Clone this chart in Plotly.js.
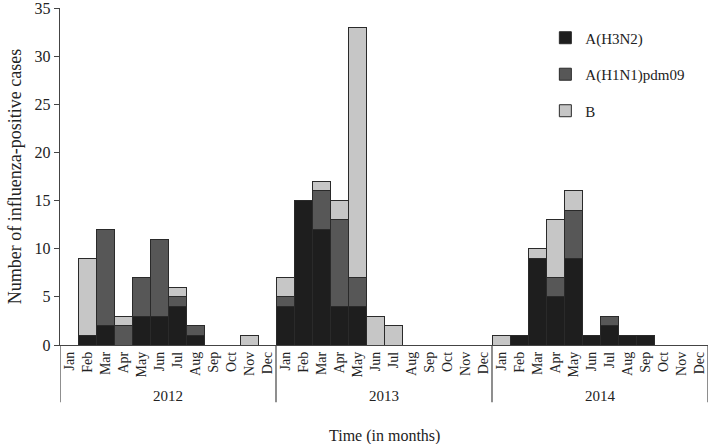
<!DOCTYPE html>
<html>
<head>
<meta charset="utf-8">
<script src="https://cdn.plot.ly/plotly-3.0.1.min.js"></script>
<style>
  html, body { margin: 0; padding: 0; background: #fff; }
  #chart { width: 709px; height: 444px; }
</style>
</head>
<body>
<div id="chart"></div>
<script>
// Data, Jan 2012 .. Dec 2014
const years = ['2012', '2013', '2014'];
const months = ['Jan', 'Feb', 'Mar', 'Apr', 'May', 'Jun', 'Jul', 'Aug', 'Sep', 'Oct', 'Nov', 'Dec'];
const yTicks = [0, 5, 10, 15, 20, 25, 30, 35];

const h3n2 = [
    0, 1, 2, 0, 3, 3, 4, 1, 0, 0, 0, 0,
    4, 15, 12, 4, 4, 0, 0, 0, 0, 0, 0, 0,
    0, 1, 9, 5, 9, 1, 2, 1, 1, 0, 0, 0
];
const h1n1 = [
    0, 0, 10, 2, 4, 8, 1, 1, 0, 0, 0, 0,
    1, 0, 4, 9, 3, 0, 0, 0, 0, 0, 0, 0,
    0, 0, 0, 2, 5, 0, 1, 0, 0, 0, 0, 0
];
const fluB = [
    0, 8, 0, 1, 0, 0, 1, 0, 0, 0, 1, 0,
    2, 0, 1, 2, 26, 3, 2, 0, 0, 0, 0, 0,
    1, 0, 1, 6, 2, 0, 0, 0, 0, 0, 0, 0
];

const serif = '"Liberation Serif", "DejaVu Serif", serif';
const textColor = '#222';

// x positions are just month indices 0..35
const xIdx = h3n2.map((v, i) => i);
const tickText = xIdx.map(i => months[i % 12]);

function makeBar(name, values, color) {
    return {
        x: xIdx,
        y: values,
        type: 'bar',
        name: name,
        legendgroup: name,
        marker: {
            color: color,
            line: { color: '#2a2a2a', width: 1 }
        },
        hoverinfo: 'name+y'
    };
}

const traces = [
    makeBar('A(H3N2)', h3n2, '#1e1e1e'),
    makeBar('A(H1N1)pdm09', h1n1, '#575757'),
    makeBar('B', fluB, '#c6c6c6')
];

// Year separators and labels under the month ticks
const shapes = [];
const annotations = [];
for (let k = 0; k <= years.length; k++) {
    shapes.push({
        type: 'line', xref: 'x', yref: 'paper',
        x0: k * 12 - 0.5, x1: k * 12 - 0.5,
        y0: 0, y1: -0.17,
        line: { color: '#444', width: 1.2 }
    });
}
years.forEach((yr, k) => {
    annotations.push({
        text: yr, xref: 'x', yref: 'paper',
        x: k * 12 + 5.5, y: -0.152,
        showarrow: false, xanchor: 'center', yanchor: 'middle',
        font: { family: serif, size: 15, color: textColor }
    });
});
annotations.push({
    text: 'Time (in months)', xref: 'paper', yref: 'paper',
    x: 0.5, y: -0.27,
    showarrow: false, xanchor: 'center', yanchor: 'middle',
    font: { family: serif, size: 16, color: textColor }
});

const layout = {
    width: 709,
    height: 444,
    margin: { t: 8, r: 1, b: 99, l: 60 },
    paper_bgcolor: '#fff',
    plot_bgcolor: '#fff',
    barmode: 'stack',
    bargap: 0,
    font: { family: serif, color: textColor },
    xaxis: {
        range: [-0.5, 35.5],
        tickvals: xIdx,
        ticktext: tickText,
        tickangle: -90,
        ticks: '',
        showgrid: false,
        zeroline: false,
        showline: true,
        linecolor: '#444',
        linewidth: 1.2,
        tickfont: { family: serif, size: 14, color: textColor },
        fixedrange: true
    },
    yaxis: {
        range: [0, 35],
        tickmode: 'array',
        tickvals: yTicks,
        ticktext: yTicks.map(String),
        ticklabeloverflow: 'allow',
        ticks: 'outside',
        ticklen: 5,
        tickcolor: '#444',
        showgrid: false,
        zeroline: false,
        showline: true,
        linecolor: '#444',
        linewidth: 1.2,
        tickfont: { family: serif, size: 16, color: textColor },
        title: {
            text: 'Number of influenza-positive cases',
            font: { family: serif, size: 18, color: textColor },
            standoff: 8
        },
        fixedrange: true
    },
    showlegend: true,
    legend: {
        x: 0.749, y: 0.96,
        xanchor: 'left', yanchor: 'top',
        traceorder: 'grouped',
        tracegroupgap: 14,
        itemwidth: 30,
        bgcolor: 'rgba(0,0,0,0)',
        font: { family: serif, size: 15, color: textColor }
    },
    shapes: shapes,
    annotations: annotations
};

Plotly.newPlot('chart', traces, layout, { displayModeBar: false, staticPlot: true });
</script>
</body>
</html>
